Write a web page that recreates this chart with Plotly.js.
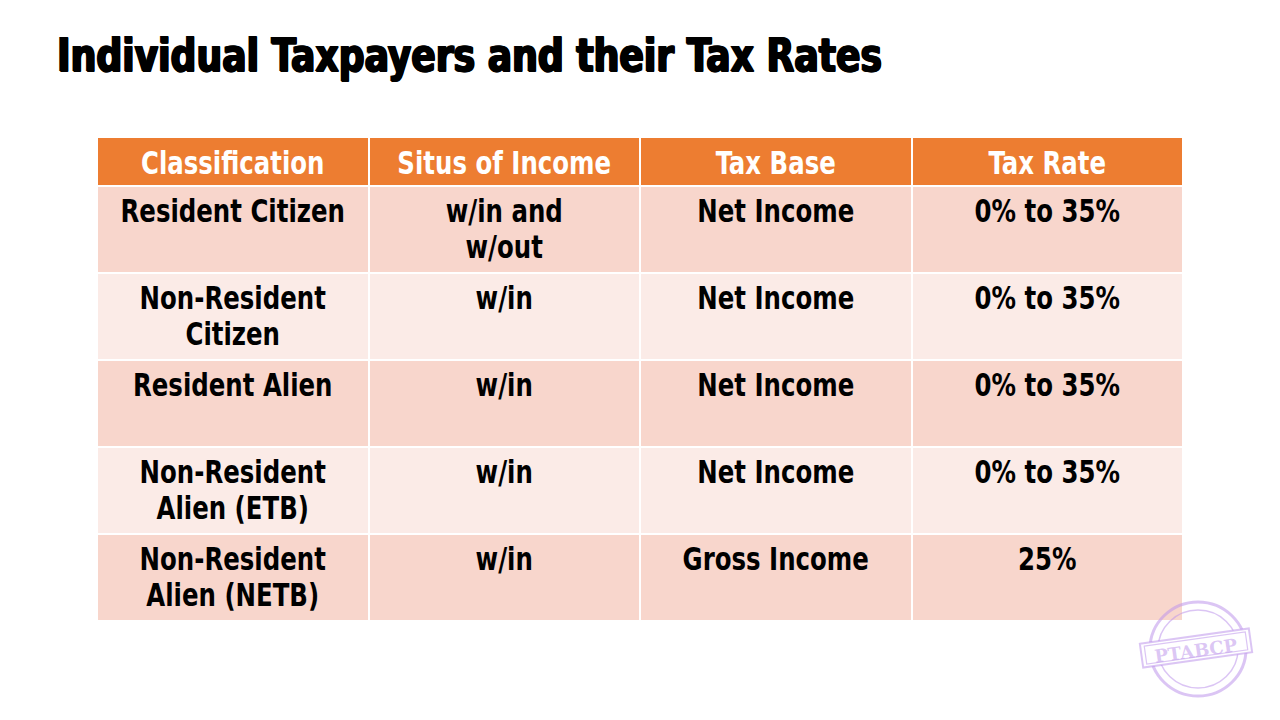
<!DOCTYPE html>
<html>
<head>
<meta charset="utf-8">
<script src="https://cdn.plot.ly/plotly-3.0.1.min.js"></script>
<style>
html,body{margin:0;padding:0;background:#fff;}
#chart{width:1280px;height:720px;}
</style>
</head>
<body>
<div id="chart"></div>
<script>
const titleText = "Individual Taxpayers and their Tax Rates";
const headers = ["Classification", "Situs of Income", "Tax Base", "Tax Rate"];
const classification = ["Resident Citizen", "Non-Resident<br>Citizen", "Resident Alien", "Non-Resident<br>Alien (ETB)", "Non-Resident<br>Alien (NETB)"];
const situs = ["w/in and<br>w/out", "w/in", "w/in", "w/in", "w/in"];
const taxBase = ["Net Income", "Net Income", "Net Income", "Net Income", "Gross Income"];
const taxRate = ["0% to 35%", "0% to 35%", "0% to 35%", "0% to 35%", "25%"];
const stampText = "PTABCP";

const rowColors = classification.map((_, i) => i % 2 === 0 ? "#F8D6CC" : "#FBEBE7");
const cellFont = "'DejaVu Sans Condensed', 'DejaVu Sans', sans-serif";
const boldLines = s => s.split("<br>").map(p => "<b>" + p + "</b>").join("<br>");

const trace = {
  type: "table",
  domain: {x: [97/1280, 1183/1280], y: [0.10, 1 - 137/720]},
  columnwidth: [1, 1, 1, 1],
  header: {
    values: headers.map(boldLines),
    align: "center",
    height: 47,
    fill: {color: "#ED7D31"},
    line: {color: "#FFFFFF", width: 2},
    font: {family: cellFont, size: 28, color: "#FFFFFF"}
  },
  cells: {
    values: [classification, situs, taxBase, taxRate].map(col => col.map(boldLines)),
    align: "center",
    height: 87,
    fill: {color: [rowColors, rowColors, rowColors, rowColors]},
    line: {color: "#FFFFFF", width: 2},
    font: {family: cellFont, size: 28, color: "#000000"}
  }
};

const stampColor = "rgba(190,150,235,0.55)";
const cx = 1198, cy = 649;
function px(x){return x/1280;}
function py(y){return 1 - y/720;}
function rotRect(x0, y0, x1, y1, ang){
  const mx = (x0+x1)/2, my = (y0+y1)/2, a = ang*Math.PI/180;
  const pts = [[x0,y0],[x1,y0],[x1,y1],[x0,y1]].map(([x,y]) => {
    const dx = x-mx, dy = y-my;
    return [mx + dx*Math.cos(a) - dy*Math.sin(a), my + dx*Math.sin(a) + dy*Math.cos(a)];
  });
  return "M" + pts.map(p => px(p[0]).toFixed(5) + "," + py(p[1]).toFixed(5)).join(" L") + " Z";
}

const layout = {
  width: 1280, height: 720,
  margin: {l: 0, r: 0, t: 0, b: 0},
  paper_bgcolor: "#FFFFFF",
  showlegend: false,
  annotations: [
    {
      text: "<b>" + titleText + "</b>",
      xref: "paper", yref: "paper", x: 55/1280, y: 1 - 26/720,
      xanchor: "left", yanchor: "top", showarrow: false,
      font: {family: "'DejaVu Sans Condensed', 'DejaVu Sans', sans-serif", size: 46, color: "#000000",
             shadow: "1px 0 0 #000, -1px 0 0 #000, 0 1px 0 #000, 1px 1px 0 #000"}
    },
    {
      text: "<b>" + stampText + "</b>",
      xref: "paper", yref: "paper", x: px(1196), y: py(650),
      xanchor: "center", yanchor: "middle", showarrow: false, textangle: -8,
      font: {family: "'DejaVu Serif', serif", size: 18, color: stampColor}
    }
  ],
  shapes: [
    {type: "circle", xref: "paper", yref: "paper", x0: px(cx-48), x1: px(cx+48), y0: py(cy+47), y1: py(cy-47),
     line: {color: stampColor, width: 3}},
    {type: "circle", xref: "paper", yref: "paper", x0: px(cx-40), x1: px(cx+40), y0: py(cy+39), y1: py(cy-39),
     line: {color: stampColor, width: 1.5}},
    {type: "path", xref: "paper", yref: "paper", path: rotRect(1141, 636, 1251, 660, -8),
     fillcolor: "#FFFFFF", line: {color: stampColor, width: 2}},
    {type: "path", xref: "paper", yref: "paper", path: rotRect(1145, 639, 1247, 657, -8),
     line: {color: stampColor, width: 1.2}}
  ]
};

const SX = 0.97, SY = 1.12, LINE_PX = 36, FONT_PX = 28, TITLE_W = 825;
const HEAD_DY = 3, CELL_DY = 2;
function finishText(){
  document.querySelectorAll('#chart .cell-text').forEach(t => {
    const lines = t.querySelectorAll('tspan.line');
    if (lines.length > 1) {
      const ws = Array.from(lines).map(l => l.getComputedTextLength());
      const mw = Math.max.apply(null, ws);
      lines.forEach((l, i) => {
        const x = parseFloat(l.getAttribute('x')) || 0;
        l.setAttribute('x', x + (mw - ws[i]) / 2);
        if (i > 0) l.setAttribute('dy', (LINE_PX / SY).toFixed(2) + 'px');
      });
    }
    const block = t.closest('.column-block');
    const isHeader = block && block.id === 'header';
    const off = isHeader ? HEAD_DY : CELL_DY;
    const bb = t.getBBox();
    const c = bb.x + bb.width / 2;
    const base = bb.y + 0.93 * FONT_PX;
    const prev = t.getAttribute('transform') || '';
    t.setAttribute('transform', (prev + ' translate(' + c + ',' + (base + off) + ') scale(' + SX + ',' + SY + ') translate(' + (-c) + ',' + (-base) + ')').trim());
  });
  const tt = document.querySelector('#chart .annotation[data-index="0"] text.annotation-text');
  if (tt) {
    const bb = tt.getBBox();
    const s = TITLE_W / bb.width;
    const prev = tt.getAttribute('transform') || '';
    tt.setAttribute('transform', (prev + ' translate(' + bb.x + ',0) scale(' + s + ',1) translate(' + (-bb.x) + ',0)').trim());
  }
}

Plotly.newPlot("chart", [trace], layout, {displayModeBar: false, staticPlot: true}).then(finishText);
</script>
</body>
</html>
